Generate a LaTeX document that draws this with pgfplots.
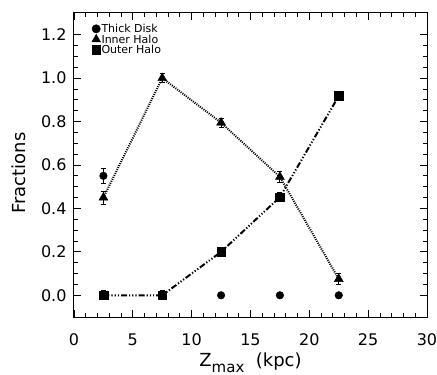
\documentclass[border=0pt]{standalone}
\usepackage{fontspec}
\setmainfont{DejaVu Sans}
\usepackage{pgfplots}
\pgfplotsset{compat=1.18}
\begin{document}
\begin{tikzpicture}
\begin{axis}[
  scale only axis,
  width=353pt, height=304pt,
  xmin=0, xmax=30, ymin=-0.1, ymax=1.3,
  xtick={0,5,...,30},
  ytick={0,0.2,...,1.2},
  minor x tick num=4,
  minor y tick num=3,
  tick align=inside,
  major tick length=7pt, minor tick length=4pt,
  tick style={line width=0.8pt, black},
  axis line style={line width=1pt},
  /pgf/number format/assume math mode=true,
  /pgf/number format/fixed,
  /pgf/number format/fixed zerofill,
  yticklabel style={/pgf/number format/precision=1, xshift=-4pt},
  xticklabel style={/pgf/number format/precision=0, /pgf/number format/fixed zerofill=false, yshift=-13pt},
  ticklabel style={font=\fontsize{16}{18}\selectfont},
  xlabel={Z\raisebox{-0.6ex}{\fontsize{15}{17}\selectfont max}\ \ (kpc)},
  ylabel={Fractions},
  label style={font=\fontsize{18}{20}\selectfont},
  xlabel style={yshift=0pt},
  ylabel style={yshift=8pt, xshift=-8pt},
  legend style={draw=none, fill=none, at={(0.05,0.965)}, anchor=north west,
    font=\fontsize{11}{12}\selectfont, row sep=0.5pt, inner sep=0pt,
    nodes={inner sep=1pt, text height=8pt, text depth=0pt}},
  legend cell align=left,
  legend image code/.code={\draw[#1] (0.2cm,0.0cm) -- plot coordinates {(0.2cm,0.0cm)};},
  error bars/error bar style={line width=0.9pt, solid},
  error bars/error mark options={rotate=90, mark size=2.5pt, line width=0.9pt, solid},
]
\addlegendimage{only marks, mark=*, mark size=4.2pt, black}
\addlegendentry{Thick Disk}
\addlegendimage{only marks, mark=triangle*, mark size=5pt, black}
\addlegendentry{Inner Halo}
\addlegendimage{only marks, mark=square*, mark size=4.3pt, black}
\addlegendentry{Outer Halo}

% Thick disk
\addplot[only marks, mark=*, mark size=3.8pt, black, mark options={line width=0.4pt},
  error bars/.cd, y dir=both, y explicit]
  coordinates {(2.5,0.55) +- (0,0.035) (12.5,0) (17.5,0) (22.5,0)};
% Inner halo
\addplot[black, line width=2pt, dash pattern=on 1pt off 1.2pt,
  mark=triangle*, mark size=5.2pt, mark options={solid, line width=0.4pt},
  error bars/.cd, y dir=both, y explicit]
  coordinates {(2.5,0.45) +- (0,0.03) (7.5,1.0) +- (0,0.02) (12.5,0.795) +- (0,0.02) (17.5,0.545) +- (0,0.025) (22.5,0.075) +- (0,0.025)};
% Outer halo
\addplot[black, line width=2pt, dash pattern=on 6pt off 2pt on 1.2pt off 2pt on 1.2pt off 2pt on 1.2pt off 2pt,
  mark=square*, mark size=4.3pt, mark options={solid, line width=0.4pt},
  error bars/.cd, y dir=both, y explicit]
  coordinates {(2.5,0.0) +- (0,0.02) (7.5,0.0) +- (0,0.02) (12.5,0.2) +- (0,0.02) (17.5,0.452) +- (0,0.02) (22.5,0.918) +- (0,0.02)};
\end{axis}
\pgfresetboundingbox
\useasboundingbox ([xshift=-74pt,yshift=-58pt]current axis.south west) rectangle ([xshift=10pt,yshift=13pt]current axis.north east);
\end{tikzpicture}
\end{document}
